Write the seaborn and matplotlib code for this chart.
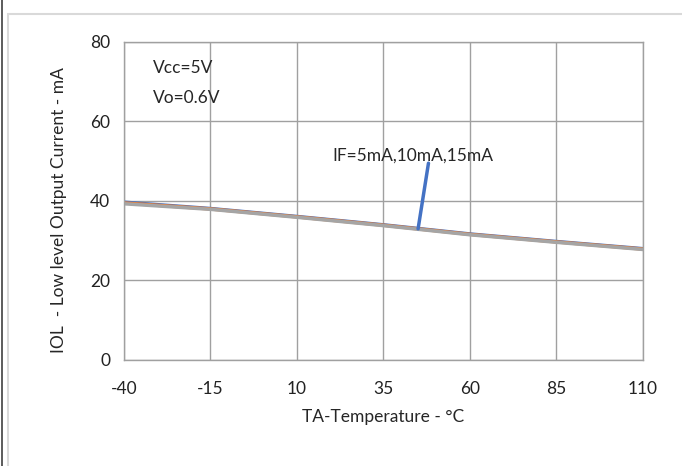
import matplotlib
matplotlib.use('Agg')
import matplotlib.pyplot as plt
import seaborn as sns
import pandas as pd
from matplotlib.patches import Rectangle

# ---------- DATA ----------
temp = [-40, -15, 10, 35, 60, 85, 110]
iol_5ma = [39.7, 38.1, 36.1, 34.0, 31.7, 29.8, 28.0]
iol_10ma = [39.5, 38.0, 36.0, 33.9, 31.6, 29.7, 27.9]
iol_15ma = [39.3, 37.9, 35.9, 33.8, 31.5, 29.6, 27.8]
series_names = ['IF=5mA', 'IF=10mA', 'IF=15mA']
x_ticks = [-40, -15, 10, 35, 60, 85, 110]
y_ticks = [0, 20, 40, 60, 80]

df = pd.DataFrame({'TA': temp, 'IF=5mA': iol_5ma, 'IF=10mA': iol_10ma, 'IF=15mA': iol_15ma})
df_long = df.melt(id_vars='TA', var_name='IF', value_name='IOL')

# ---------- STYLE ----------
sns.set_style('white')
plt.rcParams['font.family'] = ['Lato', 'DejaVu Sans']
plt.rcParams['axes.unicode_minus'] = False

fig = plt.figure(figsize=(6.82, 4.66), dpi=100)
ax = fig.add_axes([0.1818, 0.2275, 0.761, 0.6824])

# outer chart frame
fig.add_artist(Rectangle((0.012, -0.01), 1.0, 0.98, transform=fig.transFigure,
                         fill=False, edgecolor='#d9d9d9', linewidth=1.5))
fig.add_artist(Rectangle((0.003, 0.0), 0.0, 1.0, transform=fig.transFigure,
                         fill=False, edgecolor='#404040', linewidth=1.2))

sns.lineplot(data=df_long, x='TA', y='IOL', hue='IF', hue_order=series_names,
             palette=['#4472c4', '#ed7d31', '#a5a5a5'], linewidth=2.5, ax=ax, legend=False)

ax.set_xlim(-40, 110)
ax.set_ylim(0, 80)
ax.set_xticks(x_ticks)
ax.set_yticks(y_ticks)
ax.grid(True, color='#a0a0a0', linewidth=1.0)
for s in ax.spines.values():
    s.set_color('#a0a0a0')
    s.set_linewidth(1.0)
ax.tick_params(axis='both', labelsize=12.5, length=0, pad=10, colors='#222222')
ax.tick_params(axis='x', pad=15)

ax.set_xlabel('TA-Temperature - °C', fontsize=12.5, labelpad=9)
ax.set_ylabel('IOL  - Low level Output Current - mA', fontsize=12.5)
ax.yaxis.set_label_coords(-0.11, 0.47)

ax.text(-31.5, 73.5, 'Vcc=5V', fontsize=12.5, va='center')
ax.text(-31.5, 66, 'Vo=0.6V', fontsize=12.5, va='center')
ax.text(43.5, 51.5, 'IF=5mA,10mA,15mA', fontsize=12.5, ha='center', va='center')
ax.annotate('', xy=(45, 33), xytext=(48, 49.5),
            arrowprops=dict(arrowstyle='-', color='#4472c4', linewidth=2.5,
                            shrinkA=0, shrinkB=0))

fig.savefig('out.png', dpi=100)
